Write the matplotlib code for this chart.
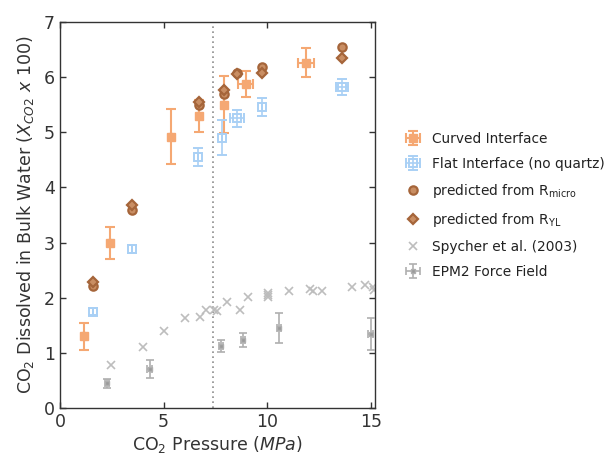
import matplotlib
matplotlib.use("Agg")
import matplotlib.pyplot as plt
import numpy as np

# Curved interface
curved_x = [1.15, 2.42, 5.36, 6.73, 7.89, 8.95, 11.87]
curved_y = [1.30, 3.00, 4.92, 5.30, 5.50, 5.87, 6.26]
curved_yerr = [0.25, 0.29, 0.50, 0.29, 0.51, 0.24, 0.26]
curved_xerr = [0.0, 0.0, 0.0, 0.0, 0.0, 0.34, 0.40]

# Flat interface (no quartz)
flat_x = [1.58, 3.46, 6.68, 7.83, 8.52, 9.76, 13.60]
flat_y = [1.75, 2.88, 4.55, 4.90, 5.25, 5.46, 5.82]
flat_yerr = [0.07, 0.07, 0.17, 0.32, 0.15, 0.16, 0.14]
flat_xerr = [0.0, 0.0, 0.0, 0.0, 0.34, 0.0, 0.29]

# Predicted values
pred_x = [1.60, 3.46, 6.73, 7.89, 8.52, 9.76, 13.60]
micro_y = [2.21, 3.59, 5.50, 5.70, 6.07, 6.19, 6.55]
yl_y = [2.28, 3.68, 5.55, 5.76, 6.05, 6.07, 6.35]

# Spycher et al. (2003)
spy_x = [2.46, 3.99, 5.02, 6.01, 6.76, 7.04, 7.44, 7.57, 8.04, 8.66, 9.05,
         10.05, 10.05, 10.05, 11.05, 12.04, 12.19, 12.64, 14.07, 14.70, 15.10, 15.15]
spy_y = [0.79, 1.11, 1.39, 1.63, 1.66, 1.77, 1.78, 1.76, 1.92, 1.78, 2.02,
         2.09, 2.01, 2.05, 2.12, 2.15, 2.12, 2.13, 2.19, 2.23, 2.20, 2.14]

# EPM2 force field
epm_x = [2.27, 4.32, 7.76, 8.82, 10.58, 14.98]
epm_y = [0.45, 0.71, 1.12, 1.23, 1.45, 1.34]
epm_yerr = [0.08, 0.17, 0.11, 0.13, 0.27, 0.29]
epm_xerr = [0.1, 0.1, 0.1, 0.1, 0.1, 0.1]

crit_p = 7.38

orange = '#F5A873'
blue = '#A9D0F5'
brown = '#A5653A'
brown_fill = '#C98E63'
gray = '#BDBDBD'

fig = plt.figure(figsize=(6.04, 4.55), dpi=100)
ax = fig.add_axes([0.0993, 0.103, 0.5217, 0.849])

ax.axvline(crit_p, color='#8C8C8C', ls=(0, (1, 2)), lw=1.2, zorder=1)

h1 = ax.errorbar(curved_x, curved_y, yerr=curved_yerr, xerr=curved_xerr, fmt='s',
                 color=orange, ms=6, mfc=orange, mec=orange, capsize=3.5, elinewidth=1.5,
                 capthick=1.5, label='Curved Interface', zorder=3)
h2 = ax.errorbar(flat_x, flat_y, yerr=flat_yerr, xerr=flat_xerr, fmt='s',
                 color=blue, ms=6, mfc='none', mec=blue, mew=1.4, capsize=3.5, elinewidth=1.2,
                 capthick=1.2, label='Flat Interface (no quartz)', zorder=3)
h3, = ax.plot(pred_x, micro_y, 'o', ms=6, mfc=brown_fill, mec=brown, mew=1.6,
              label=r'predicted from R$_{\mathrm{micro}}$', zorder=4)
h4, = ax.plot(pred_x, yl_y, 'D', ms=5, mfc=brown_fill, mec=brown, mew=1.6,
              label=r'predicted from R$_{\mathrm{YL}}$', zorder=4)
h5, = ax.plot(spy_x, spy_y, 'x', ms=5.5, mew=1.2, color=gray, ls='none',
              label='Spycher et al. (2003)', zorder=2)
h6 = ax.errorbar(epm_x, epm_y, yerr=epm_yerr, xerr=epm_xerr, fmt='s', color='#AFAFAF',
                 ms=3.5, mfc='#9A9A9A', mec='#AFAFAF', capsize=3, elinewidth=1.2, capthick=1.2,
                 label='EPM2 Force Field', zorder=3)

ax.set_xlim(0, 15.2)
ax.set_ylim(0, 7)
ax.set_xticks([0, 5, 10, 15])
ax.set_yticks(range(8))
ax.tick_params(direction='in', top=True, right=True, labelsize=12.5,
               length=4, width=1, colors='#333333')
for sp in ax.spines.values():
    sp.set_color('#333333')
    sp.set_linewidth(1.0)

ax.set_xlabel(r'CO$_2$ Pressure ($\mathit{MPa}$)', fontsize=12.5, color='#333333', labelpad=2)
ax.set_ylabel(r'CO$_2$ Dissolved in Bulk Water ($\mathit{X_{CO2}}$ $\mathit{x\ 100}$)',
              fontsize=12.5, color='#333333', labelpad=6)

handles = [h1, h2, h3, h4, h5, h6]
labels = [h.get_label() for h in handles]
leg = ax.legend(handles, labels, loc='upper left', bbox_to_anchor=(0.658, 0.722),
                bbox_transform=fig.transFigure, frameon=False, borderaxespad=0,
                fontsize=9.9, handlelength=1.5, handletextpad=0.6, labelspacing=0.8)
for t in leg.get_texts():
    t.set_color('#222222')

fig.savefig('out.png', dpi=100)
